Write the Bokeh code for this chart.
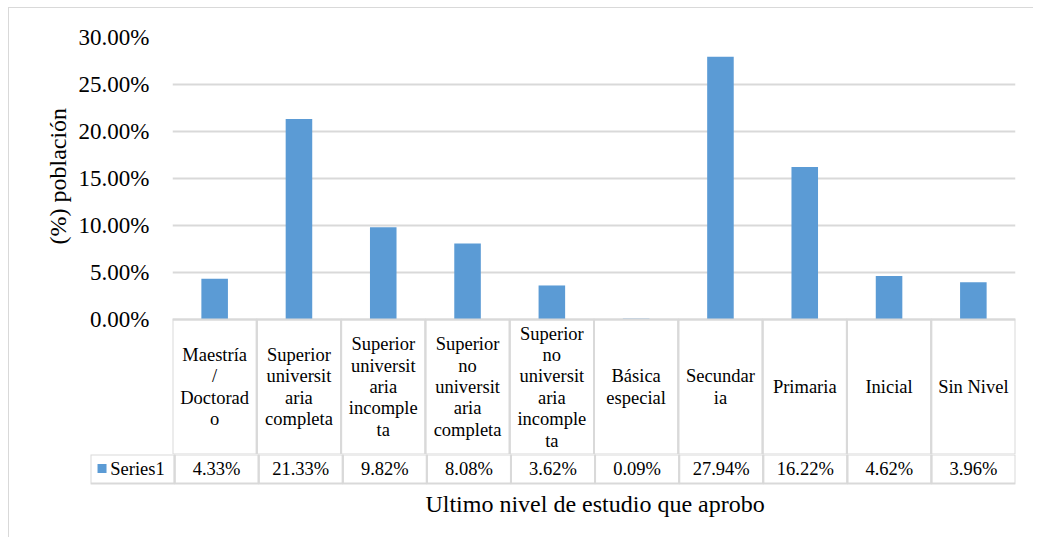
from bokeh.plotting import figure
from bokeh.models import Range1d, FactorRange, NumeralTickFormatter, FixedTicker, ColumnDataSource, Title
from bokeh.layouts import column
from bokeh.core.properties import value
from bokeh.embed import file_html
from bokeh.resources import INLINE

# ---- data ----
categories = ["Maestría / Doctorado", "Superior universitaria completa",
              "Superior universitaria incompleta", "Superior no universitaria completa",
              "Superior no universitaria incompleta", "Básica especial", "Secundaria",
              "Primaria", "Inicial", "Sin Nivel"]
header_labels = ["Maestría\n/\nDoctorad\no", "Superior\nuniversit\naria\ncompleta",
                 "Superior\nuniversit\naria\nincomple\nta", "Superior\nno\nuniversit\naria\ncompleta",
                 "Superior\nno\nuniversit\naria\nincomple\nta", "Básica\nespecial", "Secundar\nia",
                 "Primaria", "Inicial", "Sin Nivel"]
series_name = "Series1"
values = [0.0433, 0.2133, 0.0982, 0.0808, 0.0362, 0.0009, 0.2794, 0.1622, 0.0462, 0.0396]
y_ticks = [0.0, 0.05, 0.10, 0.15, 0.20, 0.25, 0.30]
x_title = "Ultimo nivel de estudio que aprobo"
y_title = "(%) población"

FONT = "Liberation Serif"
BLUE = "#5B9BD5"
GRID = "#D9D9D9"
TXT = "#000000"

PLOT_H, HDR_H, TOP = 282, 135, 29
Y_MAX = 0.30
hdr_units = Y_MAX * HDR_H / PLOT_H
W, RB = 1024, 18

# ---- chart + category header ----
p1 = figure(width=W, height=TOP + PLOT_H + HDR_H, x_range=FactorRange(factors=categories),
            y_range=Range1d(-hdr_units, Y_MAX), output_backend="svg", toolbar_location=None,
            x_axis_location=None, min_border_left=163, min_border_right=RB,
            min_border_top=TOP, min_border_bottom=0, outline_line_color=None)
p1.frame_align = False
p1.vbar(x=categories, top=values, width=0.315, fill_color=BLUE, line_color=None)
p1.yaxis.ticker = FixedTicker(ticks=y_ticks)
p1.yaxis.formatter = NumeralTickFormatter(format="0.00%")
p1.yaxis.axis_line_color = None
p1.yaxis.major_tick_line_color = None
p1.yaxis.minor_tick_line_color = None
p1.yaxis.major_tick_out = 0
p1.yaxis.major_label_standoff = 23
p1.yaxis.major_label_text_font = FONT
p1.yaxis.major_label_text_font_size = "23px"
p1.yaxis.major_label_text_color = TXT
p1.ygrid.grid_line_color = GRID
p1.ygrid.grid_line_width = 2
p1.xgrid.grid_line_color = None
p1.add_layout(Title(text=y_title, align="left", offset=210, text_font=FONT,
                    text_font_size="24px", text_font_style="normal", text_color=TXT,
                    standoff=10), "left")

hdr = ColumnDataSource(dict(x=categories, lab=header_labels))
p1.rect(x="x", y=-hdr_units / 2, width=1, height=hdr_units, source=hdr,
        fill_color=None, line_color=GRID, line_width=2)
p1.text(x="x", y=-hdr_units / 2, text="lab", source=hdr, text_align="center",
        text_baseline="middle", text_font=value(FONT), text_font_size="18.5px",
        text_line_height=1.07, text_color=TXT)

# ---- value row + x title ----
VAL_H, TITLE_H = 29, 54
row_factors = [series_name] + categories
p2 = figure(width=W, height=VAL_H + TITLE_H,
            x_range=FactorRange(factors=row_factors),
            y_range=Range1d(-TITLE_H, VAL_H), output_backend="svg",
            toolbar_location=None, x_axis_location=None, y_axis_location=None,
            min_border_left=81, min_border_right=RB, min_border_top=0, min_border_bottom=0,
            outline_line_color=None)
p2.frame_align = False
p2.grid.visible = False

val_src = ColumnDataSource(dict(x=row_factors, lab=[""] + [f"{v * 100:.2f}%" for v in values]))
p2.rect(x="x", y=VAL_H / 2, width=1, height=VAL_H, source=val_src,
        fill_color=None, line_color=GRID, line_width=2)
p2.text(x="x", y=VAL_H / 2, text="lab", source=val_src, text_align="center",
        text_baseline="middle", text_font=value(FONT), text_font_size="18.5px", text_color=TXT)

# legend key in first cell
p2.scatter(x=[0.137], y=[VAL_H / 2 + 0.5], marker="square", size=9, fill_color=BLUE, line_color=None)
p2.text(x=[0.235], y=[VAL_H / 2], text=[series_name], text_align="left", text_baseline="middle",
        text_font=value(FONT), text_font_size="18.5px", text_color=TXT)

# x axis title centred under the category columns
p2.text(x=[(1 + len(row_factors)) / 2], y=[-20], text=[x_title], text_align="center",
        text_baseline="middle", text_font=value(FONT), text_font_size="24px", text_color=TXT)

layout = column(p1, p2, spacing=0,
                styles={"border-left": "1px solid #D9D9D9", "border-top": "1px solid #D9D9D9",
                        "margin-left": "8px", "margin-top": "7px"})

open("out.html", "w").write(file_html(layout, INLINE))
